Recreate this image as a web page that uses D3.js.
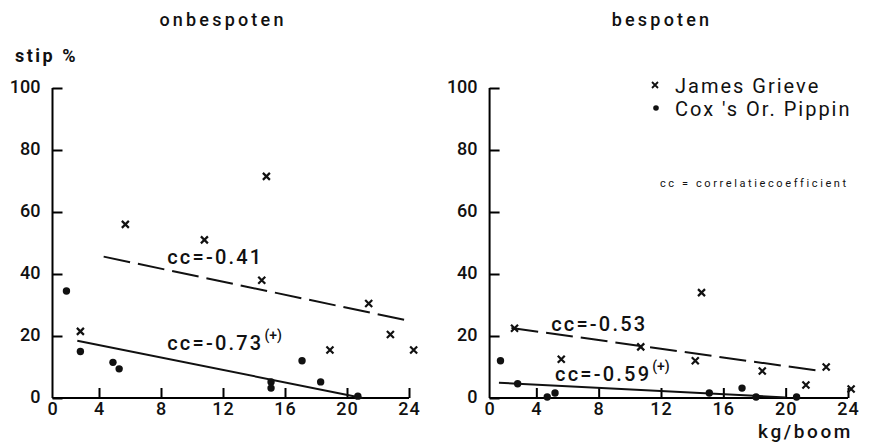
<!DOCTYPE html>
<html>
<head>
<meta charset="utf-8">
<script src="https://cdn.jsdelivr.net/npm/d3@7"></script>
<style>
  body { margin: 0; background: #fff; }
  svg text { font-family: Roboto, "DejaVu Sans", sans-serif; fill: #111; }
</style>
</head>
<body>
<svg id="chart" width="869" height="445"></svg>
<script>
// values (x = kg/boom, y = stip %)
var xTicks = [4, 8, 12, 16, 20, 24];
var yTicks = [0, 20, 40, 60, 80, 100];
var panelTitles = ["onbespoten", "bespoten"];
var seriesNames = ["James Grieve", "Cox 's  Or. Pippin"];

var jgUnsprayed = [[2.8,21.5],[5.7,56],[10.8,51],[14.8,71.5],[14.5,38],[21.4,30.5],[18.9,15.5],[22.8,20.5],[24.3,15.5]];
var coxUnsprayed = [[1.9,34.5],[2.8,15],[4.9,11.5],[5.3,9.4],[15.1,5.2],[15.1,3.2],[17.1,12],[18.3,5.2],[20.7,0.6]];
var jgSprayed = [[2.6,22.5],[5.6,12.5],[10.7,16.5],[14.6,34],[14.2,12],[18.5,8.7],[22.6,10],[21.3,4.2],[24.2,2.9]];
var coxSprayed = [[1.7,12],[2.8,4.6],[4.7,0.3],[5.2,1.6],[15.1,1.6],[17.2,3.2],[18.1,0.3],[20.7,0.3]];

// regression lines, end points
var fitJgUnsprayed = [[4.3,45.6],[24,24.9]];
var fitCoxUnsprayed = [[2.6,18.5],[21,0]];
var fitJgSprayed = [[2.4,22.6],[22.1,8.8]];
var fitCoxSprayed = [[1.6,4.9],[20,0.2]];

var ccJgUnsprayed = "cc=-0.41", ccCoxUnsprayed = "cc=-0.73";
var ccJgSprayed = "cc=-0.53", ccCoxSprayed = "cc=-0.59";

var svg = d3.select("#chart");
var y = d3.scaleLinear().domain([0, 100]).range([398, 88]);
var axisStart = 1; // the y axis sits at ~1 kg on the drawn scale

function drawPanel(p) {
    var x = d3.scaleLinear().domain([0, 24]).range(p.range);
    var g = svg.append("g");
    var x0 = x(axisStart);

    // y axis, inward ticks
    g.append("g")
        .attr("transform", "translate(" + x0 + ",0)")
        .call(d3.axisLeft(y).tickValues(yTicks).tickSizeInner(-10).tickSizeOuter(0).tickPadding(12))
        .call(function(a){
            a.select(".domain").attr("stroke-width", 2).attr("d", "M0," + y(0) + "V" + y(100));
            a.selectAll(".tick line").attr("stroke-width", 2);
            a.selectAll(".tick text").style("font-size", "18px").style("font-weight", 500).attr("dy", "0.25em");
        });

    // x axis, inward ticks
    g.append("g")
        .attr("transform", "translate(0," + y(0) + ")")
        .call(d3.axisBottom(x).tickValues(xTicks).tickSizeInner(-10).tickSizeOuter(0).tickPadding(4))
        .call(function(a){
            a.select(".domain").attr("stroke-width", 2).attr("d", "M" + x0 + ",0H" + x(24));
            a.selectAll(".tick line").attr("stroke-width", 2);
            a.selectAll(".tick text").style("font-size", "18px").style("font-weight", 500).style("letter-spacing", "1px");
        });
    g.append("text")
        .attr("x", x0).attr("y", y(0) + 17)
        .attr("text-anchor", "middle")
        .style("font-size", "18px").style("font-weight", 500)
        .text("0");

    // title
    g.append("text")
        .attr("x", p.titleX).attr("y", 26)
        .attr("text-anchor", "middle")
        .style("font-size", "18px").style("font-weight", 500).style("letter-spacing", "3.2px")
        .text(p.title);

    var line = d3.line().x(function(d){ return x(d[0]); }).y(function(d){ return y(d[1]); });
    g.append("path").attr("d", line(p.fitJg))
        .attr("fill", "none").attr("stroke", "#111").attr("stroke-width", 2)
        .attr("stroke-dasharray", "27,8");
    g.append("path").attr("d", line(p.fitCox))
        .attr("fill", "none").attr("stroke", "#111").attr("stroke-width", 2);

    // James Grieve = crosses
    var s = 3.5;
    g.selectAll(".jg").data(p.jg).enter().append("path")
        .attr("class", "jg")
        .attr("transform", function(d){ return "translate(" + x(d[0]) + "," + y(d[1]) + ")"; })
        .attr("d", "M" + -s + "," + -s + "L" + s + "," + s + "M" + s + "," + -s + "L" + -s + "," + s)
        .attr("stroke", "#111").attr("stroke-width", 2.2);

    // Cox = dots
    g.selectAll(".cox").data(p.cox).enter().append("circle")
        .attr("class", "cox")
        .attr("cx", function(d){ return x(d[0]); })
        .attr("cy", function(d){ return y(d[1]); })
        .attr("r", 3.7).attr("fill", "#111");

    // correlation labels
    p.labels.forEach(function(l){
        var t = g.append("text")
            .attr("x", x(l.at[0])).attr("y", y(l.at[1]))
            .style("font-size", "20px").style("font-weight", 500).style("letter-spacing", "2.2px")
            .text(l.text);
        if (l.plus) {
            t.append("tspan").attr("dy", -10).attr("dx", 1)
                .style("font-size", "14px").style("letter-spacing", "0px")
                .text("(+)");
        }
    });
    return x;
}

drawPanel({
    range: [37, 409], title: panelTitles[0], titleX: 223,
    jg: jgUnsprayed, cox: coxUnsprayed, fitJg: fitJgUnsprayed, fitCox: fitCoxUnsprayed,
    labels: [{text: ccJgUnsprayed, at: [8.4, 43.2]}, {text: ccCoxUnsprayed, at: [8.4, 15.5], plus: true}]
});
drawPanel({
    range: [474, 848], title: panelTitles[1], titleX: 662,
    jg: jgSprayed, cox: coxSprayed, fitJg: fitJgSprayed, fitCox: fitCoxSprayed,
    labels: [{text: ccJgSprayed, at: [4.95, 21.6]}, {text: ccCoxSprayed, at: [5.2, 5.5], plus: true}]
});

// y title
svg.append("text").attr("x", 15).attr("y", 62)
    .style("font-size", "18px").style("font-weight", 700).style("letter-spacing", "2.5px")
    .text("stip %");

// x title
svg.append("text").attr("x", 853).attr("y", 438).attr("text-anchor", "end")
    .style("font-size", "19px").style("font-weight", 500).style("letter-spacing", "2.6px")
    .text("kg/boom");

// legend
var lg = svg.append("g");
lg.append("path")
    .attr("d", "M652,82L658,88M658,82L652,88")
    .attr("stroke", "#111").attr("stroke-width", 1.8);
lg.append("circle").attr("cx", 656).attr("cy", 108).attr("r", 2.8).attr("fill", "#111");
lg.selectAll(".lt").data(seriesNames).enter().append("text")
    .attr("class", "lt")
    .attr("x", 675).attr("y", function(d, i){ return 93 + i * 23; })
    .style("font-size", "20px").style("letter-spacing", "2px")
    .text(function(d){ return d; });
lg.append("text").attr("x", 660).attr("y", 187)
    .style("font-size", "11px").style("letter-spacing", "2.6px")
    .text("cc = correlatiecoefficient");
</script>
</body>
</html>
